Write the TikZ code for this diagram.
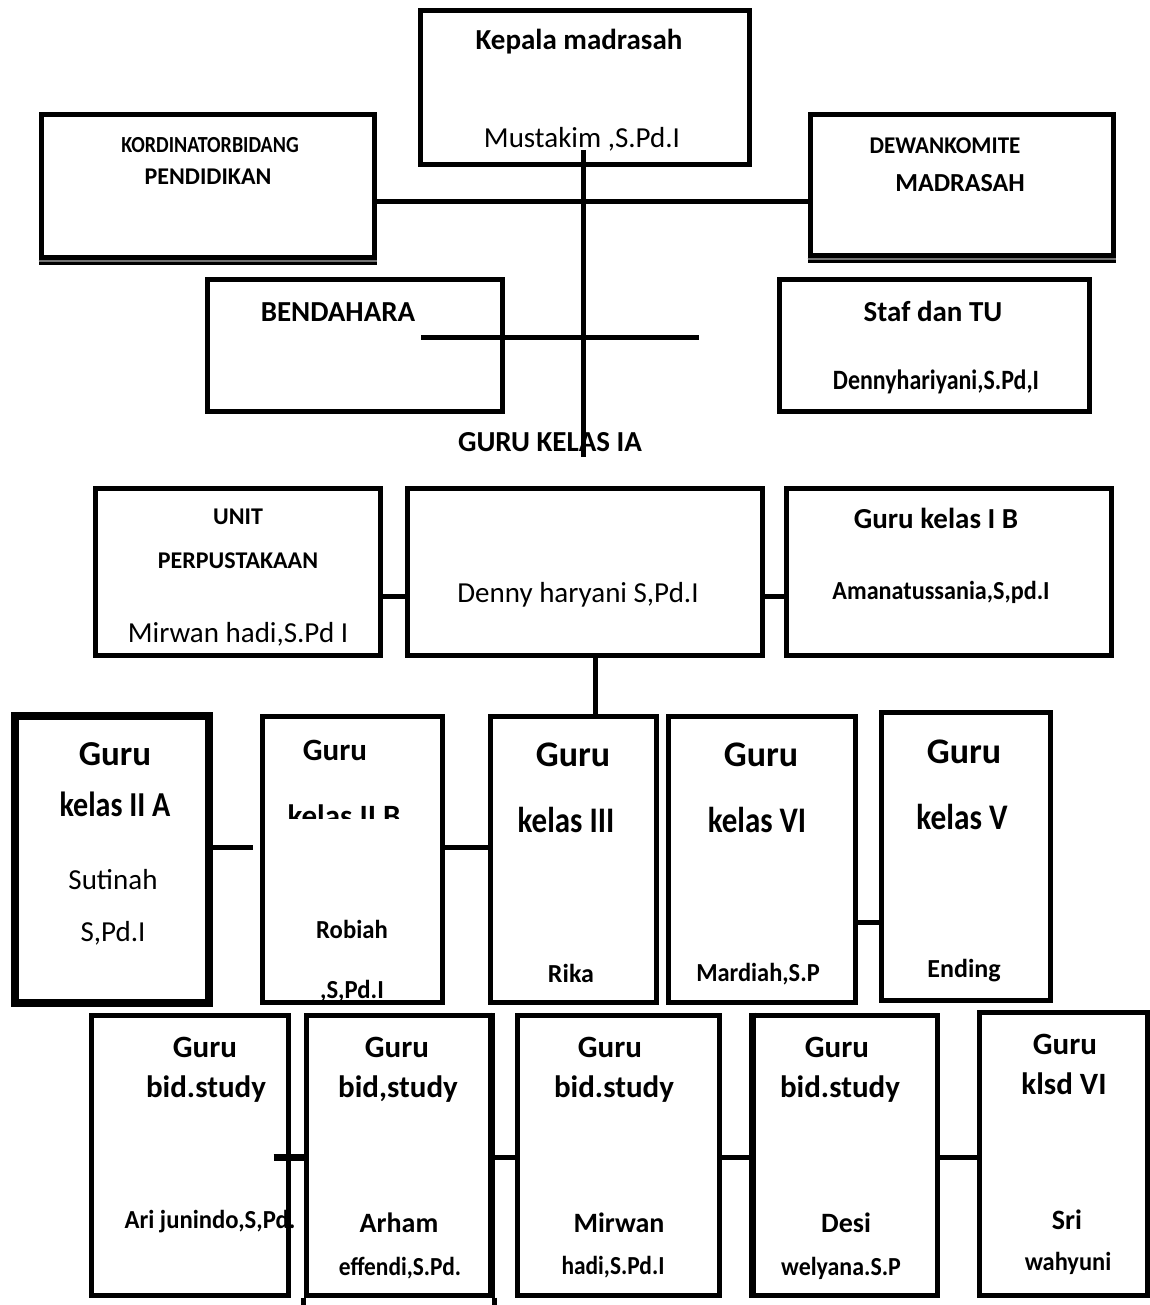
\documentclass[tikz,border=0pt]{standalone}
\usepackage{fontspec}
\setmainfont{Carlito}
\usepackage{graphicx}
\usetikzlibrary{positioning,calc}
\newcommand{\squeeze}[2]{\scalebox{#1}[1]{#2}}
\tikzset{
  orgbox/.style={draw=black,line width=5pt,fill=none,inner sep=0pt},
  heavybox/.style={orgbox,line width=8pt},
  link/.style={draw=black,line width=5pt},
  lbl/.style={anchor=base,inner sep=0pt,outer sep=0pt},
  rg/.style={lbl,font=\fontsize{#1}{#1}\selectfont},
  bd/.style={lbl,font=\fontsize{#1}{#1}\selectfont\bfseries},
}

\begin{document}
\begin{tikzpicture}[x=1pt,y=-1pt]
  \useasboundingbox (0,0) rectangle (1149,1305);

  % pimpinan
  \node[orgbox,minimum width=329,minimum height=154] (kepala) at (584.5,88) {};
  \node[orgbox,minimum width=333,minimum height=143] (kord) at (207.5,186.5) {};
  \node[orgbox,minimum width=303,minimum height=141] (dewan) at (961.5,185.5) {};
  \node[orgbox,minimum width=295,minimum height=131] (bendahara) at (354.5,345.5) {};
  \node[orgbox,minimum width=310,minimum height=131] (staf) at (934,345.5) {};
  \draw[link] ([yshift=-2pt]kord.south west) -- ([yshift=-2pt]kord.south east);
  \draw[link,line width=1.2pt,draw=black!55] ([yshift=-0.5pt]kord.south west) -- ([yshift=-0.5pt]kord.south east);
  \draw[link] ([yshift=-2pt]dewan.south west) -- ([yshift=-2pt]dewan.south east);
  \draw[link,line width=1.2pt,draw=black!55] ([yshift=-0.5pt]dewan.south west) -- ([yshift=-0.5pt]dewan.south east);

  \node[bd=29] (kepala-a) at (579,50) {Kepala madrasah};
  \node[rg=29] (kepala-b) at (582,148) {Mustakim ,S.Pd.I};
  \node[bd=23] (kord-a) at (210,153) {\squeeze{0.87}{KORDINATORBIDANG}};
  \node[bd=24] (kord-b) at (208,185) {PENDIDIKAN};
  \node[bd=24] (dewan-a) at (945,154) {\squeeze{0.96}{DEWANKOMITE}};
  \node[bd=26] (dewan-b) at (960,192) {MADRASAH};
  \node[bd=29] (bendahara-a) at (338,321) {BENDAHARA};
  \node[bd=29] (staf-a) at (933,321) {Staf dan TU};
  \node[bd=28] (staf-b) at (936,389) {\squeeze{0.855}{Dennyhariyani,S.Pd,I}};
  \node[bd=29] (gurukelas) at (550,451) {GURU KELAS IA};

  % kelas I
  \node[orgbox,minimum width=285,minimum height=167] (unit) at (237.5,571.5) {};
  \node[orgbox,minimum width=355,minimum height=167] (denny) at (584.5,571.5) {};
  \node[orgbox,minimum width=325,minimum height=167] (ib) at (948.5,571.5) {};

  \node[bd=24] (unit-a) at (238,524) {UNIT};
  \node[bd=24] (unit-b) at (238,568) {PERPUSTAKAAN};
  \node[rg=29] (unit-c) at (238,642) {Mirwan hadi,S.Pd I};
  \node[rg=29] (denny-a) at (578,602) {Denny haryani S,Pd.I};
  \node[bd=29] (ib-a) at (936,528) {Guru kelas I B};
  \node[bd=26] (ib-b) at (941,599) {\squeeze{0.93}{Amanatussania,S,pd.I}};

  % guru kelas
  \node[heavybox,minimum width=194,minimum height=287] (iia) at (112,859.5) {};
  \node[orgbox,minimum width=180,minimum height=286] (iib) at (352,859) {};
  \node[orgbox,minimum width=166,minimum height=286] (iii) at (573,859) {};
  \node[orgbox,minimum width=187,minimum height=286] (vi) at (761.5,859) {};
  \node[orgbox,minimum width=169,minimum height=288] (v) at (965.5,856) {};

  \node[bd=35] (iia-a) at (115,765) {Guru};
  \node[bd=35] (iia-b) at (115,816) {\squeeze{0.86}{kelas II A}};
  \node[rg=29] (iia-c) at (113,889) {Sutinah};
  \node[rg=29] (iia-d) at (113,941) {S,Pd.I};
  \node[bd=31] (iib-a) at (335,760) {Guru};
  \begin{scope}
    \clip (262,790) rectangle (442,818);
    \node[bd=31] (iib-b) at (344,826) {kelas II B};
  \end{scope}
  \node[bd=26] (iib-c) at (352,938) {\squeeze{0.95}{Robiah}};
  \node[bd=26] (iib-d) at (352,998) {\squeeze{0.95}{,S,Pd.I}};
  \node[bd=36] (iii-a) at (573,766) {Guru};
  \node[bd=36] (iii-b) at (566,832) {\squeeze{0.86}{kelas III}};
  \node[bd=26] (iii-c) at (571,982) {Rika};
  \node[bd=36] (vi-a) at (761,766) {Guru};
  \node[bd=36] (vi-b) at (757,832) {\squeeze{0.86}{kelas VI}};
  \node[bd=26] (vi-c) at (758,981) {\squeeze{0.94}{Mardiah,S.P}};
  \node[bd=36] (v-a) at (964,763) {Guru};
  \node[bd=36] (v-b) at (962,829) {\squeeze{0.87}{kelas V}};
  \node[bd=26] (v-c) at (964,977) {Ending};

  % guru bidang studi
  \node[orgbox,minimum width=197,minimum height=280] (ari) at (189.5,1155) {};
  \node[orgbox,minimum width=186,minimum height=280] (arham) at (399,1155) {};
  \node[orgbox,minimum width=202,minimum height=280] (mirwan) at (618,1155) {};
  \node[orgbox,minimum width=186,minimum height=280] (desi) at (844,1155) {};
  \node[orgbox,minimum width=168,minimum height=283] (sri) at (1063,1153.5) {};
  \draw[link] (arham.south west) -- ++(0,12);
  \draw[link] (arham.south east) -- ++(0,12);
  \draw[link,line width=4pt] ([xshift=-5pt]arham.north east) -- ([xshift=-5pt]arham.south east);
  \draw[link,line width=4pt] ([xshift=5pt]desi.north west) -- ([xshift=5pt]desi.south west);

  \node[bd=31] (ari-a) at (205,1057) {Guru};
  \node[bd=31] (ari-b) at (206,1097) {bid.study};
  \node[bd=31] (arham-a) at (397,1057) {Guru};
  \node[bd=31] (arham-b) at (398,1097) {bid,study};
  \node[bd=28] (arham-c) at (399,1232) {Arham};
  \node[bd=26] (arham-d) at (400,1275) {\squeeze{0.9}{effendi,S.Pd.}};
  \node[bd=31] (mirwan-a) at (610,1057) {Guru};
  \node[bd=31] (mirwan-b) at (614,1097) {bid.study};
  \node[bd=28] (mirwan-c) at (619,1232) {Mirwan};
  \node[bd=26] (mirwan-d) at (613,1274) {\squeeze{0.9}{hadi,S.Pd.I}};
  \node[bd=31] (desi-a) at (837,1057) {Guru};
  \node[bd=31] (desi-b) at (840,1097) {bid.study};
  \node[bd=28] (desi-c) at (846,1232) {Desi};
  \node[bd=26] (desi-d) at (841,1275) {\squeeze{0.92}{welyana.S.P}};
  \node[bd=31] (sri-a) at (1065,1054) {Guru};
  \node[bd=31] (sri-b) at (1064,1094) {klsd VI};
  \node[bd=28] (sri-c) at (1067,1229) {Sri};
  \node[bd=26] (sri-d) at (1068,1270) {\squeeze{0.94}{wahyuni}};

  % garis
  \coordinate (stemtop) at (583,150);
  \coordinate (stemend) at (583,457);
  \coordinate (bar1) at (0,202);
  \coordinate (bar2a) at (421,337);
  \coordinate (bar2b) at (699,337);
  \coordinate (rowA) at (0,596);
  \coordinate (stemB) at (595,0);
  \coordinate (rowB) at (0,847);
  \coordinate (rowC) at (0,922);
  \coordinate (rowD) at (0,1157);
  \draw[link] (stemtop) -- (stemend);
  \draw[link] (kord.east |- bar1) -- (dewan.west |- bar1);
  \draw[link] (bar2a) -- (bar2b);
  \draw[link] (unit.east |- rowA) -- (denny.west |- rowA);
  \draw[link] (denny.east |- rowA) -- (ib.west |- rowA);
  \draw[link] (denny.south -| stemB) -- (iii.north -| stemB);
  \draw[link] (iia.east |- rowB) -- ([xshift=-7pt]iib.west |- rowB);
  \draw[link] (iib.east |- rowB) -- (iii.west |- rowB);
  \draw[link] (vi.east |- rowC) -- (v.west |- rowC);
  \draw[link,line width=7pt] ([xshift=-17pt]ari.east |- rowD) -- (arham.west |- rowD);
  \draw[link] (arham.east |- rowD) -- (mirwan.west |- rowD);
  \draw[link] (mirwan.east |- rowD) -- (desi.west |- rowD);
  \draw[link] (desi.east |- rowD) -- (sri.west |- rowD);
  \node[bd=26] (ari-c) at (210,1228) {\squeeze{0.95}{Ari junindo,S,Pd.}};
\end{tikzpicture}
\end{document}
